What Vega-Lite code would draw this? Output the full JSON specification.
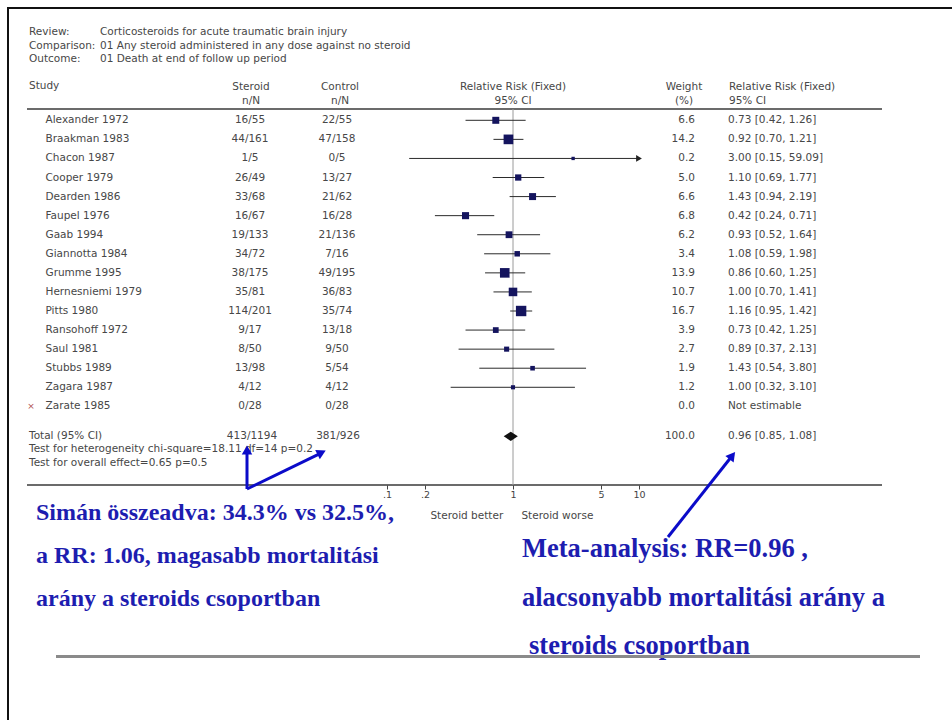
{
  "$schema": "https://vega.github.io/schema/vega-lite/v6.json",
  "width": 944,
  "height": 712,
  "autosize": {"type": "none"},
  "padding": {"left": 8, "top": 8, "right": 0, "bottom": 0},
  "background": "#ffffff",
  "config": {
    "view": {"stroke": null},
    "text": {"font": "DejaVu Sans", "fontSize": 10.5, "color": "#474747", "baseline": "middle"}
  },
  "datasets": {
    "meta": [
      {"label": "Review:", "value": "Corticosteroids for acute traumatic brain injury", "line": 1},
      {"label": "Comparison:", "value": "01 Any steroid administered in any dose against no steroid", "line": 2},
      {"label": "Outcome:", "value": "01 Death at end of follow up period", "line": 3}
    ],
    "studies": [
      {"study": "Alexander 1972", "row": 1, "steroid": "16/55", "control": "22/55", "weight": 6.6, "rr": 0.73, "lo": 0.42, "hi": 1.26, "ci": "0.73 [0.42, 1.26]"},
      {"study": "Braakman 1983", "row": 2, "steroid": "44/161", "control": "47/158", "weight": 14.2, "rr": 0.92, "lo": 0.70, "hi": 1.21, "ci": "0.92 [0.70, 1.21]"},
      {"study": "Chacon 1987", "row": 3, "steroid": "1/5", "control": "0/5", "weight": 0.2, "rr": 3.00, "lo": 0.15, "hi": 59.09, "ci": "3.00 [0.15, 59.09]"},
      {"study": "Cooper 1979", "row": 4, "steroid": "26/49", "control": "13/27", "weight": 5.0, "rr": 1.10, "lo": 0.69, "hi": 1.77, "ci": "1.10 [0.69, 1.77]"},
      {"study": "Dearden 1986", "row": 5, "steroid": "33/68", "control": "21/62", "weight": 6.6, "rr": 1.43, "lo": 0.94, "hi": 2.19, "ci": "1.43 [0.94, 2.19]"},
      {"study": "Faupel 1976", "row": 6, "steroid": "16/67", "control": "16/28", "weight": 6.8, "rr": 0.42, "lo": 0.24, "hi": 0.71, "ci": "0.42 [0.24, 0.71]"},
      {"study": "Gaab 1994", "row": 7, "steroid": "19/133", "control": "21/136", "weight": 6.2, "rr": 0.93, "lo": 0.52, "hi": 1.64, "ci": "0.93 [0.52, 1.64]"},
      {"study": "Giannotta 1984", "row": 8, "steroid": "34/72", "control": "7/16", "weight": 3.4, "rr": 1.08, "lo": 0.59, "hi": 1.98, "ci": "1.08 [0.59, 1.98]"},
      {"study": "Grumme 1995", "row": 9, "steroid": "38/175", "control": "49/195", "weight": 13.9, "rr": 0.86, "lo": 0.60, "hi": 1.25, "ci": "0.86 [0.60, 1.25]"},
      {"study": "Hernesniemi 1979", "row": 10, "steroid": "35/81", "control": "36/83", "weight": 10.7, "rr": 1.00, "lo": 0.70, "hi": 1.41, "ci": "1.00 [0.70, 1.41]"},
      {"study": "Pitts 1980", "row": 11, "steroid": "114/201", "control": "35/74", "weight": 16.7, "rr": 1.16, "lo": 0.95, "hi": 1.42, "ci": "1.16 [0.95, 1.42]"},
      {"study": "Ransohoff 1972", "row": 12, "steroid": "9/17", "control": "13/18", "weight": 3.9, "rr": 0.73, "lo": 0.42, "hi": 1.25, "ci": "0.73 [0.42, 1.25]"},
      {"study": "Saul 1981", "row": 13, "steroid": "8/50", "control": "9/50", "weight": 2.7, "rr": 0.89, "lo": 0.37, "hi": 2.13, "ci": "0.89 [0.37, 2.13]"},
      {"study": "Stubbs 1989", "row": 14, "steroid": "13/98", "control": "5/54", "weight": 1.9, "rr": 1.43, "lo": 0.54, "hi": 3.80, "ci": "1.43 [0.54, 3.80]"},
      {"study": "Zagara 1987", "row": 15, "steroid": "4/12", "control": "4/12", "weight": 1.2, "rr": 1.00, "lo": 0.32, "hi": 3.10, "ci": "1.00 [0.32, 3.10]"},
      {"study": "Zarate 1985", "row": 16, "steroid": "0/28", "control": "0/28", "weight": 0.0, "rr": null, "lo": null, "hi": null, "ci": "Not estimable"}
    ],
    "total": [
      {"label": "Total (95% CI)", "steroid": "413/1194", "control": "381/926", "weight": 100.0, "rr": 0.96, "lo": 0.85, "hi": 1.08, "ci": "0.96 [0.85, 1.08]"}
    ]
  },
  "resolve": {"scale": {"x": "independent", "y": "independent"}},
  "layer": [
    {"data": {"values": [{}]}, "mark": {"type": "rule", "color": "#111111", "strokeWidth": 2},
     "encoding": {"x": {"datum": 8, "type": "quantitative", "scale": {"domain": [8, 952], "zero": false, "nice": false}, "axis": null},
                  "x2": {"datum": 952},
                  "y": {"datum": 8, "type": "quantitative", "scale": {"domain": [8, 720], "zero": false, "nice": false, "reverse": true}, "axis": null}}},
    {"data": {"values": [{}]}, "mark": {"type": "rule", "color": "#111111", "strokeWidth": 2},
     "encoding": {"x": {"datum": 8, "type": "quantitative", "scale": {"domain": [8, 952], "zero": false, "nice": false}, "axis": null},
                  "y": {"datum": 7, "type": "quantitative", "scale": {"domain": [8, 720], "zero": false, "nice": false, "reverse": true}, "axis": null},
                  "y2": {"datum": 720}}},

    {"data": {"name": "meta"}, "mark": {"type": "text", "align": "left"},
     "encoding": {"x": {"datum": 29, "type": "quantitative", "scale": {"domain": [8, 952], "zero": false, "nice": false}, "axis": null},
                  "y": {"field": "line", "type": "quantitative", "scale": {"domain": [-0.778, 51.963], "zero": false, "nice": false, "reverse": true}, "axis": null},
                  "text": {"field": "label"}}},
    {"data": {"name": "meta"}, "mark": {"type": "text", "align": "left"},
     "encoding": {"x": {"datum": 100, "type": "quantitative", "scale": {"domain": [8, 952], "zero": false, "nice": false}, "axis": null},
                  "y": {"field": "line", "type": "quantitative", "scale": {"domain": [-0.778, 51.963], "zero": false, "nice": false, "reverse": true}, "axis": null},
                  "text": {"field": "value"}}},

    {"data": {"values": [{}]}, "mark": {"type": "text", "align": "left", "text": "Study"},
     "encoding": {"x": {"datum": 29, "type": "quantitative", "scale": {"domain": [8, 952], "zero": false, "nice": false}, "axis": null},
                  "y": {"datum": 86, "type": "quantitative", "scale": {"domain": [8, 720], "zero": false, "nice": false, "reverse": true}, "axis": null}}},
    {"data": {"values": [{}]}, "mark": {"type": "text", "align": "center", "baseline": "top", "lineHeight": 13.5, "text": ["Steroid", "n/N"]},
     "encoding": {"x": {"datum": 251, "type": "quantitative", "scale": {"domain": [8, 952], "zero": false, "nice": false}, "axis": null},
                  "y": {"datum": 82, "type": "quantitative", "scale": {"domain": [8, 720], "zero": false, "nice": false, "reverse": true}, "axis": null}}},
    {"data": {"values": [{}]}, "mark": {"type": "text", "align": "center", "baseline": "top", "lineHeight": 13.5, "text": ["Control", "n/N"]},
     "encoding": {"x": {"datum": 340, "type": "quantitative", "scale": {"domain": [8, 952], "zero": false, "nice": false}, "axis": null},
                  "y": {"datum": 82, "type": "quantitative", "scale": {"domain": [8, 720], "zero": false, "nice": false, "reverse": true}, "axis": null}}},
    {"data": {"values": [{}]}, "mark": {"type": "text", "align": "center", "baseline": "top", "lineHeight": 13.5, "text": ["Relative Risk (Fixed)", "95% CI"]},
     "encoding": {"x": {"datum": 513, "type": "quantitative", "scale": {"domain": [8, 952], "zero": false, "nice": false}, "axis": null},
                  "y": {"datum": 82, "type": "quantitative", "scale": {"domain": [8, 720], "zero": false, "nice": false, "reverse": true}, "axis": null}}},
    {"data": {"values": [{}]}, "mark": {"type": "text", "align": "center", "baseline": "top", "lineHeight": 13.5, "text": ["Weight", "(%)"]},
     "encoding": {"x": {"datum": 684, "type": "quantitative", "scale": {"domain": [8, 952], "zero": false, "nice": false}, "axis": null},
                  "y": {"datum": 82, "type": "quantitative", "scale": {"domain": [8, 720], "zero": false, "nice": false, "reverse": true}, "axis": null}}},
    {"data": {"values": [{}]}, "mark": {"type": "text", "align": "left", "baseline": "top", "lineHeight": 13.5, "text": ["Relative Risk (Fixed)", "95% CI"]},
     "encoding": {"x": {"datum": 729, "type": "quantitative", "scale": {"domain": [8, 952], "zero": false, "nice": false}, "axis": null},
                  "y": {"datum": 82, "type": "quantitative", "scale": {"domain": [8, 720], "zero": false, "nice": false, "reverse": true}, "axis": null}}},

    {"data": {"values": [{}]}, "mark": {"type": "rule", "color": "#3a3a3a", "strokeWidth": 1.5},
     "encoding": {"x": {"datum": 27, "type": "quantitative", "scale": {"domain": [8, 952], "zero": false, "nice": false}, "axis": null},
                  "x2": {"datum": 882},
                  "y": {"datum": 109, "type": "quantitative", "scale": {"domain": [8, 720], "zero": false, "nice": false, "reverse": true}, "axis": null}}},
    {"data": {"values": [{}]}, "mark": {"type": "rule", "color": "#3a3a3a", "strokeWidth": 1.5},
     "encoding": {"x": {"datum": 27, "type": "quantitative", "scale": {"domain": [8, 952], "zero": false, "nice": false}, "axis": null},
                  "x2": {"datum": 882},
                  "y": {"datum": 485, "type": "quantitative", "scale": {"domain": [8, 720], "zero": false, "nice": false, "reverse": true}, "axis": null}}},

    {"data": {"values": [{}]}, "mark": {"type": "rule", "color": "#9a9a9a", "strokeWidth": 1},
     "encoding": {"x": {"datum": 1, "type": "quantitative", "scale": {"type": "log", "domain": [0.1, 10], "range": [379, 631], "clamp": true},
                        "axis": {"values": [0.1, 0.2, 1, 5, 10], "format": "~g", "labelExpr": "replace(datum.label, '0.', '.')", "orient": "bottom", "offset": -235,
                                 "domain": false, "grid": false, "ticks": true, "tickSize": 4, "tickColor": "#444444", "tickWidth": 1,
                                 "labelFont": "DejaVu Sans", "labelFontSize": 9.5, "labelColor": "#444444", "labelPadding": 0,
                                 "labelFlush": false, "labelOverlap": false, "labelBound": false, "title": null}},
                  "y": {"datum": 109, "type": "quantitative", "scale": {"domain": [8, 720], "zero": false, "nice": false, "reverse": true}, "axis": null},
                  "y2": {"datum": 485}}},

    {"data": {"name": "studies"}, "mark": {"type": "text", "align": "left"},
     "encoding": {"x": {"datum": 45.5, "type": "quantitative", "scale": {"domain": [8, 952], "zero": false, "nice": false}, "axis": null},
                  "y": {"field": "row", "type": "quantitative", "scale": {"domain": [-4.889, 32.447], "zero": false, "nice": false, "reverse": true}, "axis": null},
                  "text": {"field": "study"}}},
    {"data": {"name": "studies"}, "mark": {"type": "text", "align": "center"},
     "encoding": {"x": {"datum": 250, "type": "quantitative", "scale": {"domain": [8, 952], "zero": false, "nice": false}, "axis": null},
                  "y": {"field": "row", "type": "quantitative", "scale": {"domain": [-4.889, 32.447], "zero": false, "nice": false, "reverse": true}, "axis": null},
                  "text": {"field": "steroid"}}},
    {"data": {"name": "studies"}, "mark": {"type": "text", "align": "center"},
     "encoding": {"x": {"datum": 337, "type": "quantitative", "scale": {"domain": [8, 952], "zero": false, "nice": false}, "axis": null},
                  "y": {"field": "row", "type": "quantitative", "scale": {"domain": [-4.889, 32.447], "zero": false, "nice": false, "reverse": true}, "axis": null},
                  "text": {"field": "control"}}},
    {"data": {"name": "studies"}, "mark": {"type": "text", "align": "right"},
     "encoding": {"x": {"datum": 695, "type": "quantitative", "scale": {"domain": [8, 952], "zero": false, "nice": false}, "axis": null},
                  "y": {"field": "row", "type": "quantitative", "scale": {"domain": [-4.889, 32.447], "zero": false, "nice": false, "reverse": true}, "axis": null},
                  "text": {"field": "weight", "type": "quantitative", "format": ".1f"}}},
    {"data": {"name": "studies"}, "mark": {"type": "text", "align": "left"},
     "encoding": {"x": {"datum": 728, "type": "quantitative", "scale": {"domain": [8, 952], "zero": false, "nice": false}, "axis": null},
                  "y": {"field": "row", "type": "quantitative", "scale": {"domain": [-4.889, 32.447], "zero": false, "nice": false, "reverse": true}, "axis": null},
                  "text": {"field": "ci"}}},
    {"data": {"name": "studies"}, "transform": [{"filter": "datum.rr === null"}],
     "mark": {"type": "text", "align": "center", "text": "×", "fontSize": 9, "color": "#b05050"},
     "encoding": {"x": {"datum": 31, "type": "quantitative", "scale": {"domain": [8, 952], "zero": false, "nice": false}, "axis": null},
                  "y": {"field": "row", "type": "quantitative", "scale": {"domain": [-4.889, 32.447], "zero": false, "nice": false, "reverse": true}, "axis": null}}},
    {"data": {"name": "studies"}, "transform": [{"filter": "isValid(datum.rr)"}],
     "mark": {"type": "rule", "color": "#2b2b2b", "strokeWidth": 1},
     "encoding": {"x": {"field": "lo", "type": "quantitative", "scale": {"type": "log", "domain": [0.1, 10], "range": [379, 631], "clamp": true}, "axis": null},
                  "x2": {"field": "hi"},
                  "y": {"field": "row", "type": "quantitative", "scale": {"domain": [-4.889, 32.447], "zero": false, "nice": false, "reverse": true}, "axis": null}}},
    {"data": {"name": "studies"}, "transform": [{"filter": "isValid(datum.rr)"}],
     "mark": {"type": "point", "shape": "square", "filled": true, "color": "#14145e", "opacity": 1},
     "encoding": {"x": {"field": "rr", "type": "quantitative", "scale": {"type": "log", "domain": [0.1, 10], "range": [379, 631], "clamp": true}, "axis": null},
                  "y": {"field": "row", "type": "quantitative", "scale": {"domain": [-4.889, 32.447], "zero": false, "nice": false, "reverse": true}, "axis": null},
                  "size": {"field": "weight", "type": "quantitative", "scale": {"domain": [0, 17], "range": [10, 110]}, "legend": null}}},
    {"data": {"name": "studies"}, "transform": [{"filter": "isValid(datum.hi) && datum.hi > 10"}],
     "mark": {"type": "point", "shape": "triangle-right", "filled": true, "color": "#222222", "opacity": 1, "size": 45},
     "encoding": {"x": {"field": "hi", "type": "quantitative", "scale": {"type": "log", "domain": [0.1, 10], "range": [379, 631], "clamp": true}, "axis": null},
                  "y": {"field": "row", "type": "quantitative", "scale": {"domain": [-4.889, 32.447], "zero": false, "nice": false, "reverse": true}, "axis": null}}},

    {"data": {"name": "total"}, "mark": {"type": "text", "align": "left"},
     "encoding": {"x": {"datum": 29, "type": "quantitative", "scale": {"domain": [8, 952], "zero": false, "nice": false}, "axis": null},
                  "y": {"datum": 17.57, "type": "quantitative", "scale": {"domain": [-4.889, 32.447], "zero": false, "nice": false, "reverse": true}, "axis": null},
                  "text": {"field": "label"}}},
    {"data": {"name": "total"}, "mark": {"type": "text", "align": "center"},
     "encoding": {"x": {"datum": 252, "type": "quantitative", "scale": {"domain": [8, 952], "zero": false, "nice": false}, "axis": null},
                  "y": {"datum": 17.57, "type": "quantitative", "scale": {"domain": [-4.889, 32.447], "zero": false, "nice": false, "reverse": true}, "axis": null},
                  "text": {"field": "steroid"}}},
    {"data": {"name": "total"}, "mark": {"type": "text", "align": "center"},
     "encoding": {"x": {"datum": 338, "type": "quantitative", "scale": {"domain": [8, 952], "zero": false, "nice": false}, "axis": null},
                  "y": {"datum": 17.57, "type": "quantitative", "scale": {"domain": [-4.889, 32.447], "zero": false, "nice": false, "reverse": true}, "axis": null},
                  "text": {"field": "control"}}},
    {"data": {"name": "total"}, "mark": {"type": "text", "align": "right"},
     "encoding": {"x": {"datum": 695, "type": "quantitative", "scale": {"domain": [8, 952], "zero": false, "nice": false}, "axis": null},
                  "y": {"datum": 17.57, "type": "quantitative", "scale": {"domain": [-4.889, 32.447], "zero": false, "nice": false, "reverse": true}, "axis": null},
                  "text": {"field": "weight", "type": "quantitative", "format": ".1f"}}},
    {"data": {"name": "total"}, "mark": {"type": "text", "align": "left"},
     "encoding": {"x": {"datum": 728, "type": "quantitative", "scale": {"domain": [8, 952], "zero": false, "nice": false}, "axis": null},
                  "y": {"datum": 17.57, "type": "quantitative", "scale": {"domain": [-4.889, 32.447], "zero": false, "nice": false, "reverse": true}, "axis": null},
                  "text": {"field": "ci"}}},
    {"data": {"name": "total"},
     "mark": {"type": "point", "shape": "M-1,0L0,-0.66L1,0L0,0.66Z", "filled": true, "color": "#111111", "opacity": 1, "size": 200},
     "encoding": {"x": {"field": "rr", "type": "quantitative", "scale": {"type": "log", "domain": [0.1, 10], "range": [379, 631], "clamp": true}, "axis": null},
                  "y": {"datum": 17.57, "type": "quantitative", "scale": {"domain": [-4.889, 32.447], "zero": false, "nice": false, "reverse": true}, "axis": null}}},

    {"data": {"values": [{}]}, "mark": {"type": "text", "align": "left", "baseline": "top", "lineHeight": 14,
       "text": ["Test for heterogeneity chi-square=18.11 df=14 p=0.2", "Test for overall effect=0.65 p=0.5"]},
     "encoding": {"x": {"datum": 29, "type": "quantitative", "scale": {"domain": [8, 952], "zero": false, "nice": false}, "axis": null},
                  "y": {"datum": 444, "type": "quantitative", "scale": {"domain": [8, 720], "zero": false, "nice": false, "reverse": true}, "axis": null}}},

    {"data": {"values": [{}]}, "mark": {"type": "text", "align": "center", "text": "Steroid better"},
     "encoding": {"x": {"datum": 0.43, "type": "quantitative", "scale": {"type": "log", "domain": [0.1, 10], "range": [379, 631], "clamp": true}, "axis": null},
                  "y": {"datum": 516, "type": "quantitative", "scale": {"domain": [8, 720], "zero": false, "nice": false, "reverse": true}, "axis": null}}},
    {"data": {"values": [{}]}, "mark": {"type": "text", "align": "center", "text": "Steroid worse"},
     "encoding": {"x": {"datum": 2.25, "type": "quantitative", "scale": {"type": "log", "domain": [0.1, 10], "range": [379, 631], "clamp": true}, "axis": null},
                  "y": {"datum": 516, "type": "quantitative", "scale": {"domain": [8, 720], "zero": false, "nice": false, "reverse": true}, "axis": null}}},

    {"data": {"values": [{}]}, "mark": {"type": "rule", "color": "#0b0bc9", "strokeWidth": 3},
     "encoding": {"x": {"datum": 247, "type": "quantitative", "scale": {"domain": [8, 952], "zero": false, "nice": false}, "axis": null},
                  "x2": {"datum": 247},
                  "y": {"datum": 489, "type": "quantitative", "scale": {"domain": [8, 720], "zero": false, "nice": false, "reverse": true}, "axis": null},
                  "y2": {"datum": 452}}},
    {"data": {"values": [{}]}, "mark": {"type": "rule", "color": "#0b0bc9", "strokeWidth": 3},
     "encoding": {"x": {"datum": 247, "type": "quantitative", "scale": {"domain": [8, 952], "zero": false, "nice": false}, "axis": null},
                  "x2": {"datum": 322},
                  "y": {"datum": 489, "type": "quantitative", "scale": {"domain": [8, 720], "zero": false, "nice": false, "reverse": true}, "axis": null},
                  "y2": {"datum": 452.6}}},
    {"data": {"values": [{}]}, "mark": {"type": "rule", "color": "#0b0bc9", "strokeWidth": 3},
     "encoding": {"x": {"datum": 668, "type": "quantitative", "scale": {"domain": [8, 952], "zero": false, "nice": false}, "axis": null},
                  "x2": {"datum": 732},
                  "y": {"datum": 537, "type": "quantitative", "scale": {"domain": [8, 720], "zero": false, "nice": false, "reverse": true}, "axis": null},
                  "y2": {"datum": 456}}},
    {"data": {"values": [{}]}, "mark": {"type": "point", "shape": "triangle-up", "filled": true, "color": "#0b0bc9", "opacity": 1, "size": 110, "angle": 0},
     "encoding": {"x": {"datum": 247, "type": "quantitative", "scale": {"domain": [8, 952], "zero": false, "nice": false}, "axis": null},
                  "y": {"datum": 450, "type": "quantitative", "scale": {"domain": [8, 720], "zero": false, "nice": false, "reverse": true}, "axis": null}}},
    {"data": {"values": [{}]}, "mark": {"type": "point", "shape": "triangle-up", "filled": true, "color": "#0b0bc9", "opacity": 1, "size": 110, "angle": 64},
     "encoding": {"x": {"datum": 321.6, "type": "quantitative", "scale": {"domain": [8, 952], "zero": false, "nice": false}, "axis": null},
                  "y": {"datum": 452.6, "type": "quantitative", "scale": {"domain": [8, 720], "zero": false, "nice": false, "reverse": true}, "axis": null}}},
    {"data": {"values": [{}]}, "mark": {"type": "point", "shape": "triangle-up", "filled": true, "color": "#0b0bc9", "opacity": 1, "size": 110, "angle": 38},
     "encoding": {"x": {"datum": 732.3, "type": "quantitative", "scale": {"domain": [8, 952], "zero": false, "nice": false}, "axis": null},
                  "y": {"datum": 455.7, "type": "quantitative", "scale": {"domain": [8, 720], "zero": false, "nice": false, "reverse": true}, "axis": null}}},

    {"data": {"values": [{}]}, "mark": {"type": "text", "align": "left", "baseline": "alphabetic", "lineHeight": 43.2,
       "font": "Liberation Serif", "fontWeight": "bold", "fontSize": 24, "color": "#1d1db0",
       "text": ["Simán összeadva: 34.3% vs 32.5%,", "a RR: 1.06, magasabb mortalitási", "arány a steroids csoportban"]},
     "encoding": {"x": {"datum": 36, "type": "quantitative", "scale": {"domain": [8, 952], "zero": false, "nice": false}, "axis": null},
                  "y": {"datum": 519.5, "type": "quantitative", "scale": {"domain": [8, 720], "zero": false, "nice": false, "reverse": true}, "axis": null}}},
    {"data": {"values": [{}]}, "mark": {"type": "text", "align": "left", "baseline": "alphabetic", "lineHeight": 48.5,
       "font": "Liberation Serif", "fontWeight": "bold", "fontSize": 26.5, "color": "#1d1db0",
       "text": ["Meta-analysis: RR=0.96 ,", "alacsonyabb mortalitási arány a"]},
     "encoding": {"x": {"datum": 522, "type": "quantitative", "scale": {"domain": [8, 952], "zero": false, "nice": false}, "axis": null},
                  "y": {"datum": 557.3, "type": "quantitative", "scale": {"domain": [8, 720], "zero": false, "nice": false, "reverse": true}, "axis": null}}},
    {"data": {"values": [{}]}, "mark": {"type": "text", "align": "left", "baseline": "alphabetic",
       "font": "Liberation Serif", "fontWeight": "bold", "fontSize": 26.5, "color": "#1d1db0",
       "text": "steroids csoportban"},
     "encoding": {"x": {"datum": 529, "type": "quantitative", "scale": {"domain": [8, 952], "zero": false, "nice": false}, "axis": null},
                  "y": {"datum": 654.3, "type": "quantitative", "scale": {"domain": [8, 720], "zero": false, "nice": false, "reverse": true}, "axis": null}}},

    {"data": {"values": [{}]}, "mark": {"type": "rule", "color": "#8a8a8a", "strokeWidth": 3},
     "encoding": {"x": {"datum": 56, "type": "quantitative", "scale": {"domain": [8, 952], "zero": false, "nice": false}, "axis": null},
                  "x2": {"datum": 920},
                  "y": {"datum": 656.6, "type": "quantitative", "scale": {"domain": [8, 720], "zero": false, "nice": false, "reverse": true}, "axis": null}}}
  ]
}
